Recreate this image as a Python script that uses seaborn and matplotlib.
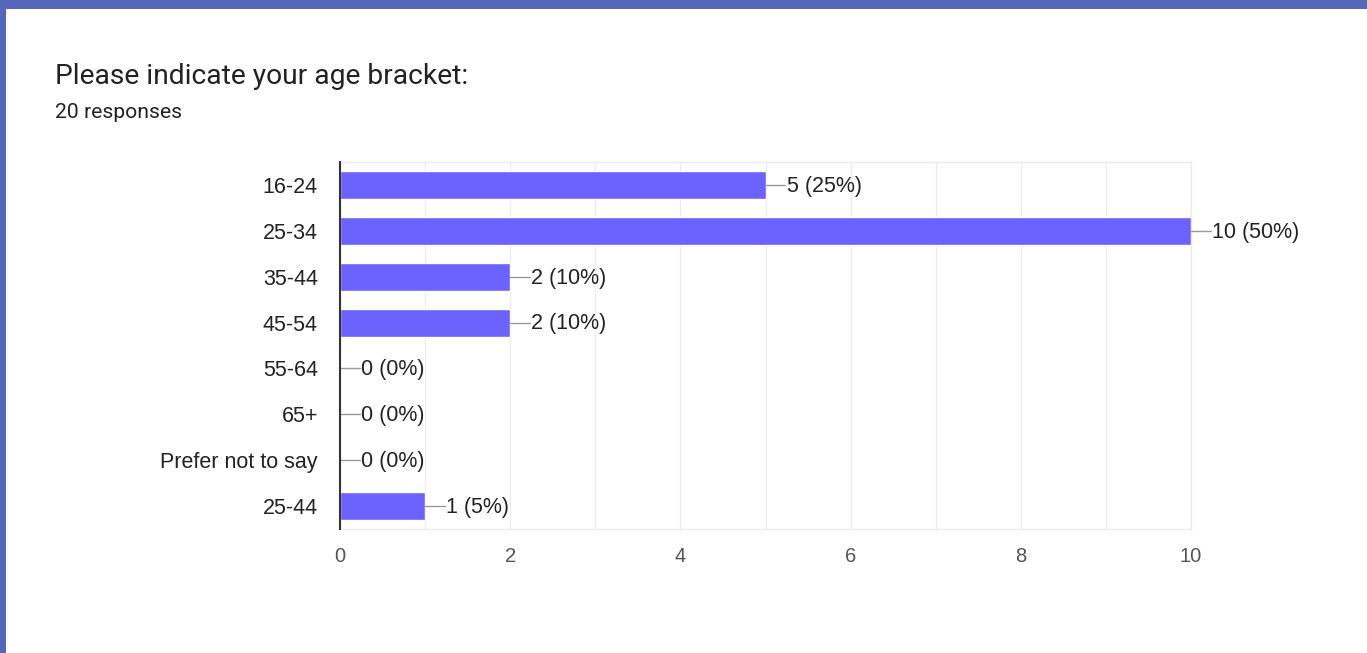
import matplotlib
matplotlib.use("Agg")
import matplotlib.pyplot as plt
import seaborn as sns
import pandas as pd
from matplotlib.patches import Rectangle

categories = ["16-24", "25-34", "35-44", "45-54", "55-64", "65+", "Prefer not to say", "25-44"]
counts = [5, 10, 2, 2, 0, 0, 0, 1]
percents = ["25%", "50%", "10%", "10%", "0%", "0%", "0%", "5%"]
title = "Please indicate your age bracket:"
subtitle = "20 responses"
xticks = [0, 2, 4, 6, 8, 10]

sns.set_theme(style="white")
plt.rcParams['font.family'] = ['Liberation Sans', 'DejaVu Sans']

df = pd.DataFrame({"category": categories, "count": counts})

W, H = 1367, 653
fig = plt.figure(figsize=(W / 100, H / 100), dpi=100)
fig.patch.set_facecolor("white")

# blue frame (top and left)
fig.add_artist(Rectangle((0, 1 - 9 / H), 1, 9 / H, transform=fig.transFigure,
                         facecolor="#5567b9", edgecolor="none", zorder=10))
fig.add_artist(Rectangle((0, 0), 6 / W, 1, transform=fig.transFigure,
                         facecolor="#5567b9", edgecolor="none", zorder=10))

ax = fig.add_axes([340 / W, 1 - 529 / H, (1191 - 340) / W, (529 - 162) / H])
sns.barplot(data=df, y="category", x="count", order=categories, orient="h",
            color="#6c63fe", saturation=1, width=0.61, ax=ax, zorder=3)

ax.set_xlim(0, 10)
ax.set_ylim(len(categories) - 0.5, -0.5)
ax.set_xticks(xticks)
ax.set_xticks(range(0, 11), minor=True)
ax.grid(axis="x", which="both", color="#ececec", linewidth=1, zorder=0)
ax.set_axisbelow(True)
ax.set_xlabel("")
ax.set_ylabel("")
ax.tick_params(axis="x", which="both", length=0, pad=13, labelsize=14.5, labelcolor="#555555")
ax.tick_params(axis="y", length=0, pad=16, labelsize=15.5, labelcolor="#222222")
for side in ["top", "right", "bottom"]:
    ax.spines[side].set_color("#ececec")
    ax.spines[side].set_linewidth(1)
ax.spines["left"].set_color("#333333")
ax.spines["left"].set_linewidth(1.5)
ax.spines["left"].set_zorder(5)

for i, (c, p) in enumerate(zip(counts, percents)):
    ax.plot([c, c + 0.23], [i, i], color="#999999", linewidth=1, clip_on=False, zorder=4)
    ax.text(c + 0.25, i + 0.03, f"{c} ({p})", va="center", ha="left", fontsize=15.5,
            color="#222222", clip_on=False)

fig.text(55 / W, 1 - 77 / H, title, fontsize=20.3, color="#222222", va="center", ha="left",
         family=["Roboto", "DejaVu Sans"])
fig.text(55 / W, 1 - 113 / H, subtitle, fontsize=15.2, color="#222222", va="center", ha="left",
         family=["Roboto", "DejaVu Sans"])

fig.savefig("out.png", dpi=100)
